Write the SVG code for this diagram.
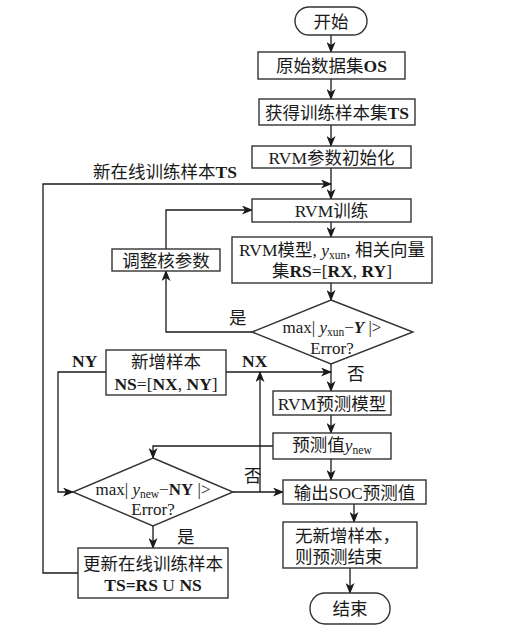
<svg xmlns="http://www.w3.org/2000/svg" width="510" height="630" viewBox="0 0 510 630">
<defs>
<marker id="ah" markerWidth="11" markerHeight="9" refX="10" refY="4.5" orient="auto" markerUnits="userSpaceOnUse">
<path d="M0,0 L11,4.5 L0,9 L3,4.5 Z" fill="#1a1a1a"/>
</marker>
<style>
.n{fill:#fff;stroke:#333;stroke-width:1.4}
.c{fill:none;stroke:#1a1a1a;stroke-width:1.3}
.a{marker-end:url(#ah)}
text{font-family:"Liberation Serif","Noto Sans CJK SC",serif;font-size:17.5px;fill:#1a1a1a}
.m{text-anchor:middle}
.b{font-weight:bold}
.i{font-style:italic}
.s{font-size:11.5px}
.d{font-size:17px}
</style>
</defs>
<rect width="510" height="630" fill="#fff"/>
<g id="connectors">
<path class="c a" d="M331,35 V52"/>
<path class="c a" d="M331,79 V99"/>
<path class="c a" d="M331,125 V146"/>
<path class="c a" d="M331,168 V199"/>
<path class="c a" d="M78,573 H43 V184 H331"/>
<path class="c a" d="M331,222 V237"/>
<path class="c a" d="M331,283 V300"/>
<path class="c a" d="M252,332 H166 V271"/>
<path class="c a" d="M166,249 V210 H252"/>
<path class="c a" d="M331,364 V391"/>
<path class="c a" d="M226,372 H331"/>
<path class="c a" d="M106,372 H58 V492 H73"/>
<path class="c a" d="M331,415 V433"/>
<path class="c a" d="M273,446 H153 V458"/>
<path class="c a" d="M331,459 V480"/>
<path class="c a" d="M233,492 H283"/>
<path class="c a" d="M260,492 V372"/>
<path class="c a" d="M153,526 V548"/>
<path class="c a" d="M354,504 V522"/>
<path class="c a" d="M350,568 V593"/>
</g>
<g id="labels">
<text x="93" y="178">新在线训练样本<tspan class="b">TS</tspan></text>
<text x="229" y="324">是</text>
<text x="347" y="380">否</text>
<text x="72" y="367" class="b">NY</text>
<text x="242" y="367" class="b">NX</text>
<text x="244" y="482">否</text>
<text x="177" y="543">是</text>
</g>
<g id="start">
<rect class="n" x="295" y="7" width="72" height="28" rx="14"/>
<text class="m" x="331" y="27.5">开始</text>
</g>
<g id="os">
<rect class="n" x="258" y="52" width="147" height="27"/>
<text class="m" x="331.5" y="71.5">原始数据集<tspan class="b">OS</tspan></text>
</g>
<g id="ts">
<rect class="n" x="259" y="99" width="156" height="26"/>
<text class="m" x="337" y="118.5">获得训练样本集<tspan class="b">TS</tspan></text>
</g>
<g id="init">
<rect class="n" x="252" y="146" width="159" height="22"/>
<text class="m" x="331.5" y="163.5">RVM参数初始化</text>
</g>
<g id="train">
<rect class="n" x="252" y="199" width="159" height="23"/>
<text class="m" x="331.5" y="216.5">RVM训练</text>
</g>
<g id="model">
<rect class="n" x="232" y="237" width="200" height="46"/>
<text class="m" x="332" y="256">RVM模型, <tspan class="i">y</tspan><tspan class="s" dy="3">xun</tspan><tspan dy="-3">, 相关向量</tspan></text>
<text class="m" x="332" y="277">集<tspan class="b">RS</tspan>=[<tspan class="b">RX</tspan>, <tspan class="b">RY</tspan>]</text>
</g>
<g id="adjust">
<rect class="n" x="112" y="249" width="108" height="22"/>
<text class="m" x="166" y="266.5">调整核参数</text>
</g>
<g id="dec1">
<polygon class="n" points="331,300 413,332 331,364 252,332"/>
<text class="m d" x="332" y="333">max| <tspan class="i">y</tspan><tspan class="s" dy="2.5">xun</tspan><tspan dy="-2.5">−</tspan><tspan class="b i">Y</tspan> |&gt;</text>
<text class="m d" x="332" y="354">Error?</text>
</g>
<g id="newsample">
<rect class="n" x="106" y="350" width="120" height="45"/>
<text class="m" x="166" y="368">新增样本</text>
<text class="m" x="166" y="390"><tspan class="b">NS</tspan>=[<tspan class="b">NX</tspan>, <tspan class="b">NY</tspan>]</text>
</g>
<g id="predmodel">
<rect class="n" x="273" y="391" width="118" height="24"/>
<text class="m" x="332" y="409.5">RVM预测模型</text>
</g>
<g id="predval">
<rect class="n" x="273" y="433" width="118" height="26"/>
<text class="m" x="332" y="451">预测值<tspan class="i">y</tspan><tspan class="s" dy="3">new</tspan></text>
</g>
<g id="dec2">
<polygon class="n" points="153,458 233,492 153,526 73,492"/>
<text class="m d" x="153" y="495">max| <tspan class="i">y</tspan><tspan class="s" dy="2.5">new</tspan><tspan dy="-2.5">−</tspan><tspan class="b">NY</tspan> |&gt;</text>
<text class="m d" x="153" y="515">Error?</text>
</g>
<g id="output">
<rect class="n" x="283" y="480" width="143" height="24"/>
<text class="m" x="354.5" y="498.5">输出SOC预测值</text>
</g>
<g id="nonew">
<rect class="n" x="283" y="522" width="134" height="46"/>
<text x="295" y="542">无新增样本，</text>
<text x="295" y="563">则预测结束</text>
</g>
<g id="update">
<rect class="n" x="78" y="548" width="150" height="50"/>
<text class="m" x="153" y="570">更新在线训练样本</text>
<text class="m b" x="153" y="591">TS=RS <tspan font-weight="normal">U</tspan> NS</text>
</g>
<g id="end">
<rect class="n" x="310" y="593" width="80" height="31" rx="15"/>
<text class="m" x="350" y="614.5">结束</text>
</g>
</svg>
